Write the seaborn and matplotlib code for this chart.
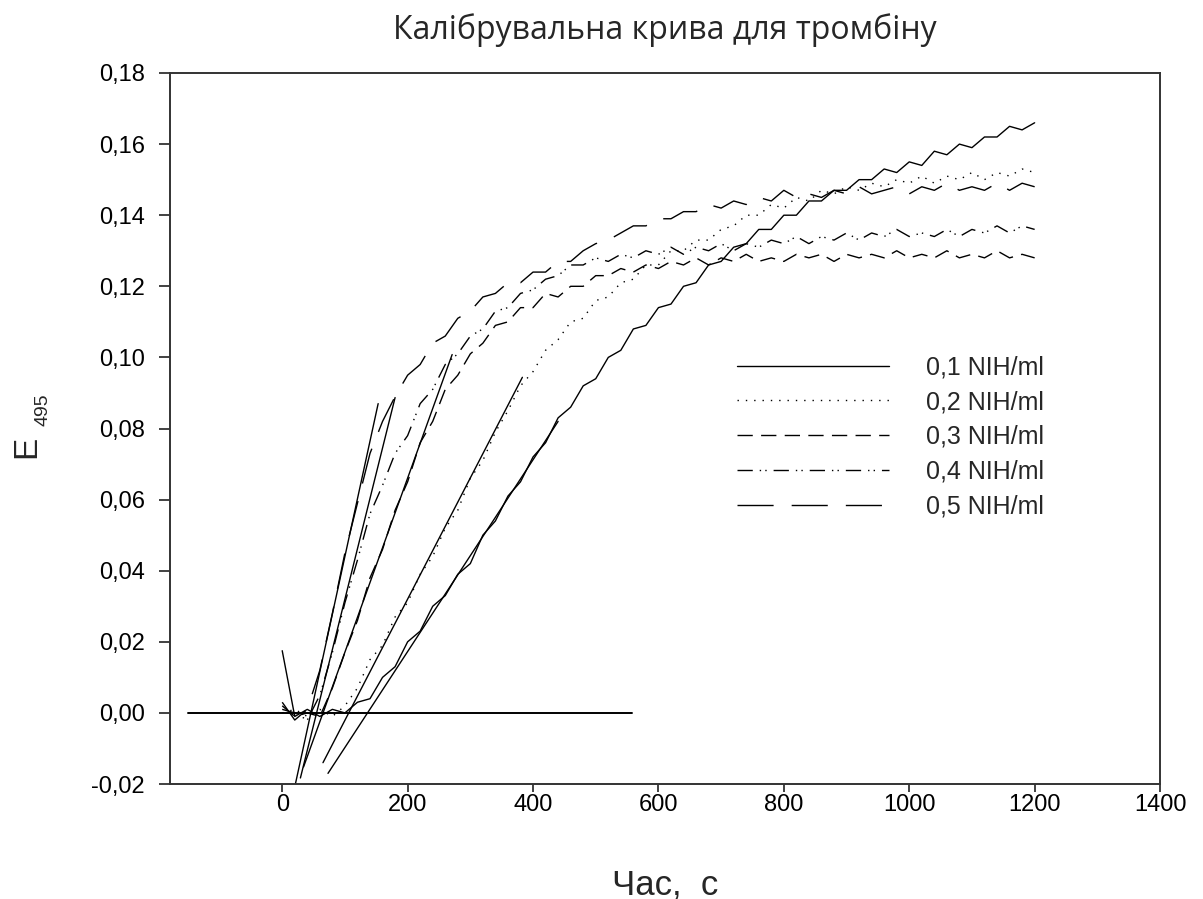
import numpy as np
import pandas as pd
import matplotlib
matplotlib.use("Agg")
import matplotlib.pyplot as plt
import seaborn as sns

# time axis (s)
t = list(range(0, 1201, 20))

# E495 readings for each thrombin activity (NIH/ml)
e_01 = [0.0175, -0.001, 0.001, -0.001, 0.001, 0.000, 0.003, 0.004, 0.010, 0.013,
        0.020, 0.023, 0.030, 0.033, 0.039, 0.042, 0.050, 0.054, 0.061, 0.065,
        0.072, 0.076, 0.083, 0.086, 0.092, 0.094, 0.100, 0.102, 0.108, 0.109,
        0.114, 0.115, 0.120, 0.121, 0.126, 0.127, 0.131, 0.132, 0.136, 0.136,
        0.140, 0.140, 0.144, 0.144, 0.147, 0.147, 0.150, 0.150, 0.153, 0.152,
        0.155, 0.154, 0.158, 0.157, 0.160, 0.159, 0.162, 0.162, 0.165, 0.164,
        0.166]
e_02 = [0.000, 0.001, -0.001, 0.001, -0.001, 0.002, 0.007, 0.015, 0.019, 0.027,
        0.031, 0.039, 0.044, 0.052, 0.057, 0.066, 0.071, 0.079, 0.085, 0.092,
        0.096, 0.102, 0.105, 0.110, 0.111, 0.116, 0.117, 0.121, 0.122, 0.126,
        0.126, 0.130, 0.130, 0.133, 0.133, 0.136, 0.137, 0.140, 0.140, 0.143,
        0.142, 0.145, 0.144, 0.147, 0.146, 0.148, 0.147, 0.149, 0.148, 0.150,
        0.149, 0.151, 0.149, 0.151, 0.150, 0.152, 0.150, 0.152, 0.151, 0.153,
        0.152]
e_03 = [0.002, -0.001, 0.000, -0.001, 0.007, 0.017, 0.026, 0.038, 0.046, 0.057,
        0.065, 0.076, 0.082, 0.091, 0.095, 0.101, 0.104, 0.109, 0.110, 0.114,
        0.114, 0.118, 0.117, 0.120, 0.120, 0.123, 0.123, 0.125, 0.124, 0.126,
        0.125, 0.127, 0.126, 0.128, 0.126, 0.128, 0.127, 0.129, 0.127, 0.128,
        0.127, 0.129, 0.128, 0.129, 0.127, 0.129, 0.128, 0.129, 0.128, 0.130,
        0.128, 0.129, 0.128, 0.130, 0.128, 0.129, 0.128, 0.130, 0.128, 0.129,
        0.128]
e_04 = [0.001, 0.000, -0.002, 0.005, 0.017, 0.031, 0.043, 0.056, 0.064, 0.073,
        0.078, 0.087, 0.091, 0.098, 0.101, 0.106, 0.108, 0.113, 0.114, 0.118,
        0.119, 0.122, 0.123, 0.126, 0.126, 0.128, 0.127, 0.129, 0.128, 0.130,
        0.129, 0.131, 0.129, 0.131, 0.130, 0.132, 0.130, 0.132, 0.131, 0.133,
        0.132, 0.134, 0.132, 0.134, 0.133, 0.135, 0.133, 0.135, 0.134, 0.136,
        0.134, 0.135, 0.134, 0.136, 0.134, 0.136, 0.135, 0.137, 0.135, 0.137,
        0.136]
e_05 = [0.003, -0.002, 0.001, 0.012, 0.028, 0.045, 0.059, 0.073, 0.082, 0.089,
        0.095, 0.098, 0.104, 0.106, 0.111, 0.113, 0.117, 0.118, 0.121, 0.121,
        0.124, 0.124, 0.127, 0.127, 0.130, 0.132, 0.133, 0.135, 0.137, 0.137,
        0.139, 0.139, 0.141, 0.141, 0.143, 0.142, 0.144, 0.143, 0.145, 0.144,
        0.147, 0.145, 0.146, 0.145, 0.147, 0.146, 0.148, 0.146, 0.147, 0.148,
        0.146, 0.148, 0.147, 0.149, 0.147, 0.148, 0.147, 0.149, 0.147, 0.149,
        0.148]

labels = ["0,1 NIH/ml", "0,2 NIH/ml", "0,3 NIH/ml", "0,4 NIH/ml", "0,5 NIH/ml"]

# tangent lines drawn on the linear parts (start x, start y, end x, end y)
tan_x0 = [21, 29, 34, 65, 73]
tan_y0 = [-0.020, -0.0183, -0.0152, -0.014, -0.017]
tan_x1 = [153, 180, 271, 383, 440]
tan_y1 = [0.087, 0.0887, 0.1008, 0.0944, 0.082]

# zero baseline
base_x = [-150, 558]
base_y = [0, 0]

sns.set_style("ticks")
plt.rcParams['font.family'] = ['Liberation Sans', 'DejaVu Sans']

fig = plt.figure(figsize=(12.03, 8.99), dpi=100)
ax = fig.add_axes([0.1413, 0.1279, 0.8230, 0.7909])

styles = ['-', (0, (1, 5)), (0, (11, 6)), (0, (11, 5, 1, 3, 1, 5)), (0, (26, 13))]
series = [e_01, e_02, e_03, e_04, e_05]
for vals, lab, ls in zip(series, labels, styles):
    df = pd.DataFrame({'t': t, 'E': vals})
    sns.lineplot(data=df, x='t', y='E', ax=ax, color='black', linewidth=1.0,
                 linestyle=ls, label=lab)

for x0, y0, x1, y1 in zip(tan_x0, tan_y0, tan_x1, tan_y1):
    ax.plot([x0, x1], [y0, y1], color='black', linewidth=1.0)
ax.plot(base_x, base_y, color='black', linewidth=1.4)

ax.set_xlim(-179, 1400)
ax.set_ylim(-0.02, 0.18)
ax.set_xticks(range(0, 1401, 200))
yt = np.arange(-0.02, 0.1801, 0.02)
ax.set_yticks(yt)
ax.set_yticklabels([f"{v:.2f}".replace('.', ',') for v in yt])
ax.tick_params(axis='both', labelsize=17, width=1.3, direction='out',
               color='#333333', labelcolor='black')
ax.tick_params(axis='y', length=8, pad=10)
ax.tick_params(axis='x', length=6, pad=1)
for sp in ax.spines.values():
    sp.set_linewidth(1.4)
    sp.set_color('#333333')
ax.set_xlabel('')
ax.set_ylabel('')

leg = ax.legend(loc='upper left', bbox_to_anchor=(0.573, 0.603), frameon=False,
                fontsize=18, handlelength=6.05, handletextpad=1.48,
                labelspacing=0.43, borderpad=0, borderaxespad=0)
for line in leg.get_lines():
    line.set_linewidth(1.0)

fig.text(0.553, 0.966, 'Калібрувальна крива для тромбіну', ha='center', va='center',
         fontsize=23, family=['Open Sans', 'DejaVu Sans'])
fig.text(0.553, 0.016, 'Час,  с', ha='center', va='center', fontsize=25)
fig.text(0.022, 0.503, 'E', rotation=90, ha='center', va='center', fontsize=24)
fig.text(0.036, 0.544, '495', rotation=90, ha='center', va='center', fontsize=14)

fig.savefig('out.png', dpi=100)
